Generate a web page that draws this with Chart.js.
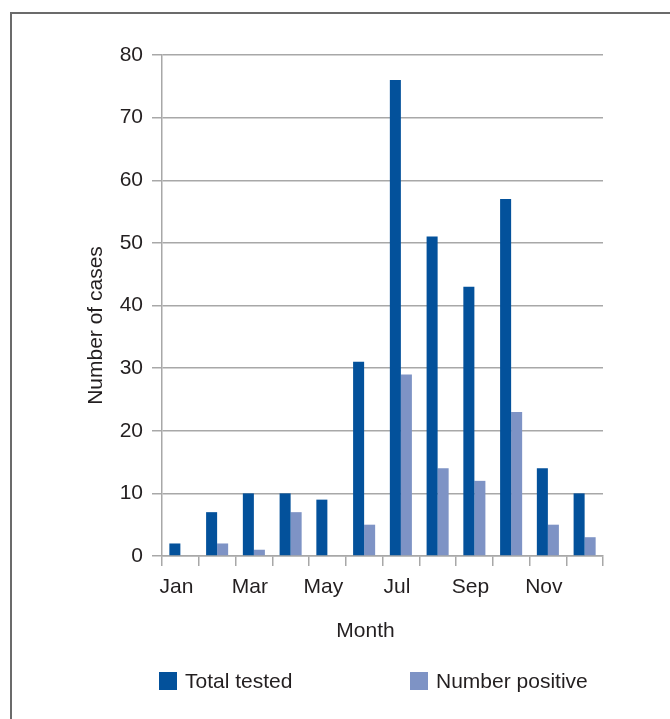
<!DOCTYPE html>
<html>
<head>
<meta charset="utf-8">
<script src="https://cdn.jsdelivr.net/npm/chart.js@4/dist/chart.umd.min.js"></script>
<style>
  html, body { margin: 0; padding: 0; background: #fff; overflow: hidden; }
  body { width: 670px; height: 719px; position: relative; }
  .frame { position: absolute; left: 10px; top: 12px; width: 720px; height: 800px;
           border: 2px solid #6b6b6b; box-sizing: border-box; }
  #wrap { position: absolute; left: 0; top: 0; width: 670px; height: 719px; }
</style>
</head>
<body>
<div class="frame"></div>
<div id="wrap"><canvas id="chart" width="670" height="719"></canvas></div>
<script>
// Monthly case counts
const months = ['Jan', 'Feb', 'Mar', 'Apr', 'May', 'Jun', 'Jul', 'Aug', 'Sep', 'Oct', 'Nov', 'Dec'];
const totalTested = [2, 7, 10, 10, 9, 31, 76, 51, 43, 57, 14, 10];
const numberPositive = [0, 2, 1, 7, 0, 5, 29, 14, 12, 23, 5, 3];
const yTicks = [0, 10, 20, 30, 40, 50, 60, 70, 80];
const xTitle = 'Month';
const yTitle = 'Number of cases';

const FONT = { family: '"Liberation Sans", Arial, sans-serif', size: 21 };
const TEXT = '#231f20';
const GRID = '#a8a8a8';

// Axis titles and the legend, drawn in the space left around the plot
const annotations = {
  id: 'annotations',
  afterDraw(chart) {
    const ctx = chart.ctx;
    const area = chart.chartArea;
    ctx.save();
    ctx.font = FONT.size + 'px ' + FONT.family;
    ctx.fillStyle = TEXT;
    ctx.textBaseline = 'middle';
    ctx.textAlign = 'center';

    // x title, a little left of the plot centre
    ctx.fillText(xTitle, (area.left + area.right) / 2 - 17, area.bottom + 75);

    // y title, rotated, a little below the plot centre
    ctx.save();
    ctx.translate(area.left - 66, (area.top + area.bottom) / 2 + 20);
    ctx.rotate(-Math.PI / 2);
    ctx.fillText(yTitle, 0, 0);
    ctx.restore();

    // legend
    const items = [
      { ds: chart.data.datasets[0], x: 159 },
      { ds: chart.data.datasets[1], x: 410 }
    ];
    ctx.textAlign = 'left';
    items.forEach(it => {
      ctx.fillStyle = it.ds.backgroundColor;
      ctx.fillRect(it.x, 672, 18, 18);
      ctx.fillStyle = TEXT;
      ctx.fillText(it.ds.label, it.x + 26, 682);
    });
    ctx.restore();
  }
};

new Chart(document.getElementById('chart'), {
  type: 'bar',
  data: {
    labels: months,
    datasets: [
      { label: 'Total tested', data: totalTested, backgroundColor: '#03519b' },
      { label: 'Number positive', data: numberPositive, backgroundColor: '#7e93c5' }
    ]
  },
  options: {
    responsive: false,
    animation: false,
    events: [],
    layout: { padding: { left: 70, top: 55, right: 67, bottom: 53 } },
    datasets: { bar: { categoryPercentage: 0.6, barPercentage: 1.0 } },
    plugins: { legend: { display: false }, tooltip: { enabled: false } },
    scales: {
      x: {
        afterFit(scale) { scale.height = 110; },
        grid: { display: true, drawOnChartArea: false, drawTicks: true, tickLength: 10,
                color: GRID, lineWidth: 1.5, offset: true },
        border: { color: GRID, width: 1.5 },
        ticks: {
          autoSkip: false, maxRotation: 0, padding: 9, labelOffset: -4, color: TEXT, font: FONT,
          callback(value, index) { return index % 2 === 0 ? months[index] : ''; }
        }
      },
      y: {
        min: 0, max: 80,
        afterFit(scale) { scale.width = 92; },
        afterBuildTicks(scale) { scale.ticks = yTicks.map(v => ({ value: v })); },
        grid: { color: GRID, lineWidth: 1.5, tickLength: 10 },
        border: { color: GRID, width: 1.5 },
        ticks: { padding: 9, color: TEXT, font: FONT }
      }
    }
  },
  plugins: [annotations]
});
</script>
</body>
</html>
